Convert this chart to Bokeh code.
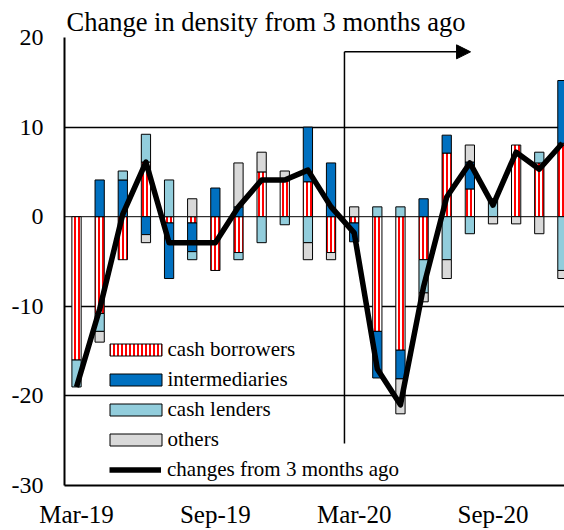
import numpy as np
from bokeh.plotting import figure
from bokeh.models import (Range1d, FixedTicker, Legend, LegendItem, Arrow, NormalHead,
                          ColumnDataSource, Span)
from bokeh.embed import file_html
from bokeh.resources import INLINE

# ---------------- data ----------------
months = ["Mar-19", "Apr-19", "May-19", "Jun-19", "Jul-19", "Aug-19", "Sep-19", "Oct-19",
          "Nov-19", "Dec-19", "Jan-20", "Feb-20", "Mar-20", "Apr-20", "May-20", "Jun-20",
          "Jul-20", "Aug-20", "Sep-20", "Oct-20", "Nov-20", "Dec-20"]
tick_months = ["Mar-19", "Sep-19", "Mar-20", "Sep-20"]
y_ticks = [-30, -20, -10, 0, 10, 20]

cash_borrowers = [-16.0, -10.8, -4.8, 6.1, -0.7, -0.7, -6.0, -4.0, 5.0, 4.0, 3.9, -4.0,
                  -0.7, -12.8, -14.9, -4.8, 7.1, 3.1, 0.0, 8.0, 6.0, 8.2]
intermediaries = [0.0, 4.1, 4.1, -2.0, -6.2, -3.2, 3.2, 1.1, 0.0, 0.0, 6.1, 6.0,
                  -2.1, -5.2, -3.2, 2.0, 2.0, 3.0, 0.0, 0.0, 0.0, 7.0]
cash_lenders = [-3.0, -2.0, 1.0, 3.1, 4.1, -0.9, 0.0, -0.8, -2.9, -0.9, -2.9, 0.0,
                0.0, 1.1, 1.1, -3.7, -4.8, -1.9, 2.0, 0.0, 1.2, -6.0]
others = [0.0, -1.2, 0.0, -0.9, 0.0, 2.0, 0.0, 4.9, 2.2, 1.1, -1.9, -0.8,
          1.1, 0.0, -3.9, -1.0, -2.1, 1.9, -0.8, -0.8, -1.9, -0.9]
changes = [-19.0, -10.3, 0.3, 6.1, -2.9, -2.9, -2.9, 1.1, 4.1, 4.1, 5.2, 1.1,
           -1.8, -17.0, -21.0, -7.8, 2.2, 6.0, 1.3, 7.2, 5.3, 8.2]

# annotation: vertical marker between Feb-20 and Mar-20 with arrow to the right
marker_x = 11.58
marker_top = 18.4
marker_bottom = -25.3
arrow_x_end = 17.03

FONT = "Liberation Serif"

x = np.arange(len(months))

p = figure(width=564, height=530,
           x_range=Range1d(-0.52, 21.09), y_range=Range1d(-30, 20),
           output_backend="svg", toolbar_location=None,
           min_border_left=64, min_border_right=0, min_border_top=37, min_border_bottom=45,
           title="Change in density from 3 months ago")
p.outline_line_color = None
p.background_fill_color = "white"
p.border_fill_color = "white"

p.title.text_font = FONT
p.title.text_font_size = "26.5px"
p.title.text_font_style = "normal"
p.title.align = "left"
p.title.standoff = 1
p.title.offset = 2
p.title.text_color = "black"

# axes
for ax in (p.xaxis[0], p.yaxis[0]):
    ax.axis_line_color = "black"
    ax.axis_line_width = 2
    ax.major_tick_in = 0
    ax.major_tick_out = 0
    ax.minor_tick_in = 0
    ax.minor_tick_out = 0
    ax.major_label_text_font = FONT
    ax.major_label_text_color = "black"

p.xaxis.major_label_text_font_size = "25px"
p.yaxis.major_label_text_font_size = "24px"
p.xaxis.ticker = FixedTicker(ticks=[months.index(m) for m in tick_months])
p.xaxis.major_label_overrides = {months.index(m): m for m in tick_months}
p.xaxis.major_label_standoff = 15
p.yaxis.ticker = FixedTicker(ticks=y_ticks)
p.yaxis.major_label_overrides = {t: str(t) for t in y_ticks}
p.yaxis.major_label_standoff = 21

p.xgrid.visible = False
p.ygrid.ticker = FixedTicker(ticks=[t for t in y_ticks if t not in (0, -30)])
p.ygrid.grid_line_color = "black"
p.ygrid.grid_line_width = 1.5
p.ygrid.grid_line_alpha = 1.0
p.add_layout(Span(location=0, dimension="width", line_color="black", line_width=1, level="underlay"))

# stacked bars (positives stack up, negatives stack down)
series = [
    ("cash borrowers", cash_borrowers, dict(fill_color="white", hatch_pattern="vertical_line",
                                            hatch_color="red", hatch_weight=2, hatch_scale=4)),
    ("intermediaries", intermediaries, dict(fill_color="#0070C0")),
    ("cash lenders", cash_lenders, dict(fill_color="#92CDDC")),
    ("others", others, dict(fill_color="#D9D9D9")),
]
pos_base = np.zeros(len(months))
neg_base = np.zeros(len(months))
bar_items = []
for name, vals, style in series:
    v = np.array(vals, dtype=float)
    bottom = np.where(v >= 0, pos_base, neg_base + v)
    top = np.where(v >= 0, pos_base + v, neg_base)
    pos_base = pos_base + np.clip(v, 0, None)
    neg_base = neg_base + np.clip(v, None, 0)
    mask = v != 0
    src = ColumnDataSource(dict(x=x[mask], bottom=bottom[mask], top=top[mask]))
    r = p.vbar(x="x", bottom="bottom", top="top", width=0.4, source=src,
               line_color="black", line_width=1, **style)
    bar_items.append(LegendItem(label=name, renderers=[r]))

line_r = p.line(x, changes, line_color="black", line_width=5.5, line_join="round")

# marker + arrow
p.segment(x0=[marker_x], y0=[marker_bottom], x1=[marker_x], y1=[marker_top],
          line_color="black", line_width=1.5)
p.add_layout(Arrow(end=NormalHead(size=14, fill_color="black", line_color="black"),
                   x_start=marker_x, y_start=marker_top, x_end=arrow_x_end, y_end=marker_top,
                   line_color="black", line_width=1.5))

common = dict(padding=0, margin=0, border_line_color=None, background_fill_alpha=0,
              label_text_font=FONT, label_text_font_size="21px", label_text_color="black")
leg1 = Legend(items=bar_items, location=(38.5, 33), glyph_width=65, glyph_height=15,
              label_height=15, label_standoff=0, spacing=5, **common)
leg2 = Legend(items=[LegendItem(label="changes from 3 months ago", renderers=[line_r])],
              location=(45, 3.5), glyph_width=52, glyph_height=15, label_height=15,
              label_standoff=6, spacing=0, **common)
p.add_layout(leg1)
p.add_layout(leg2)

open("out.html", "w").write(file_html(p, INLINE))
